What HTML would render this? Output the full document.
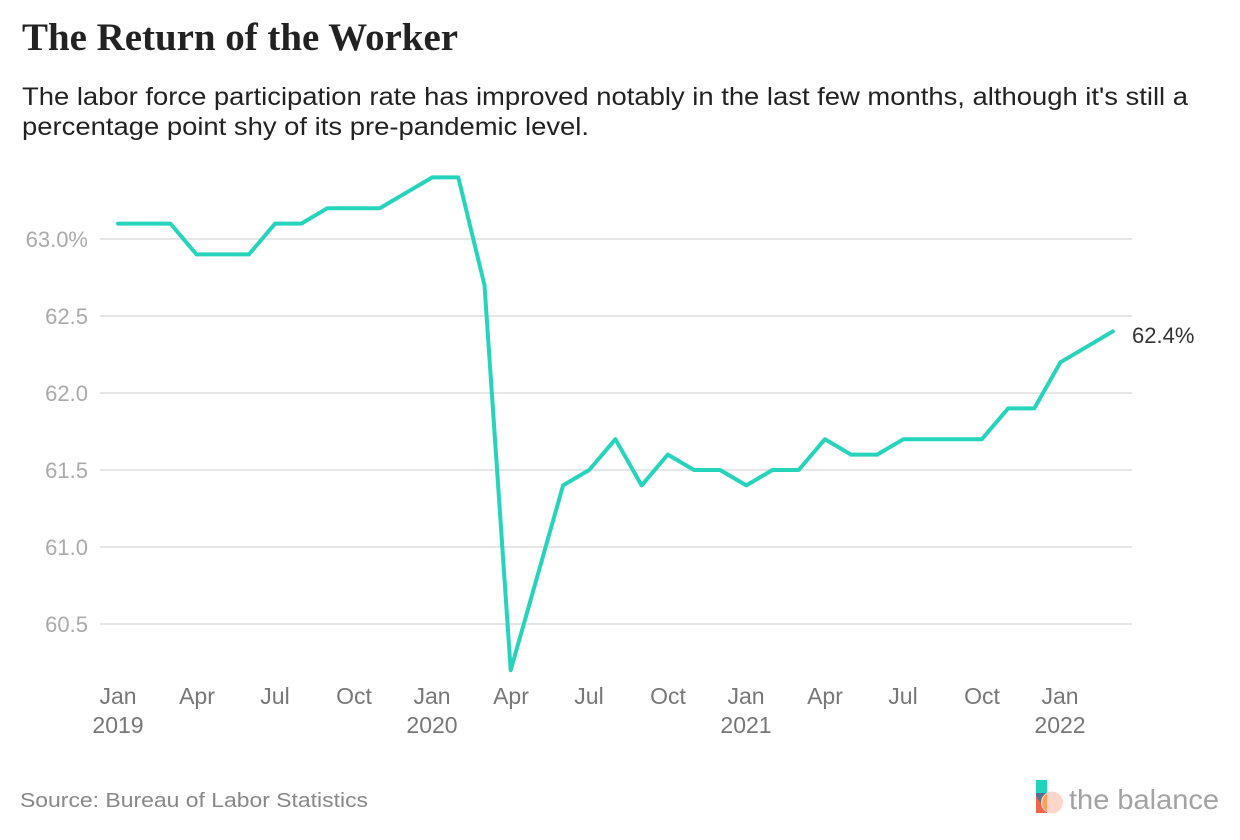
<!DOCTYPE html>
<html>
<head>
<meta charset="utf-8">
<style>
  html, body { margin: 0; padding: 0; background: #ffffff; }
  body { width: 1240px; height: 840px; overflow: hidden; }
  svg { display: block; }
</style>
</head>
<body>
<svg width="1240" height="840" viewBox="0 0 1240 840" xmlns="http://www.w3.org/2000/svg">
  <rect x="0" y="0" width="1240" height="840" fill="#ffffff"/>

  <!-- Title -->
  <text x="22" y="50" font-family="Liberation Serif, serif" font-weight="bold" font-size="39" fill="#222222" textLength="436" lengthAdjust="spacingAndGlyphs">The Return of the Worker</text>

  <!-- Subtitle -->
  <text x="22" y="105" font-family="Liberation Sans, sans-serif" font-size="25" fill="#222222" textLength="1166" lengthAdjust="spacingAndGlyphs">The labor force participation rate has improved notably in the last few months, although it's still a</text>
  <text x="22" y="135" font-family="Liberation Sans, sans-serif" font-size="25" fill="#222222" textLength="567" lengthAdjust="spacingAndGlyphs">percentage point shy of its pre-pandemic level.</text>

  <!-- Gridlines -->
  <g stroke="#e6e6e6" stroke-width="2">
    <line x1="100" y1="239" x2="1132" y2="239"/>
    <line x1="100" y1="316" x2="1132" y2="316"/>
    <line x1="100" y1="393" x2="1132" y2="393"/>
    <line x1="100" y1="470" x2="1132" y2="470"/>
    <line x1="100" y1="547" x2="1132" y2="547"/>
    <line x1="100" y1="624" x2="1132" y2="624"/>
  </g>

  <!-- Y labels -->
  <g font-family="Liberation Sans, sans-serif" font-size="22" fill="#aaaaaa" text-anchor="end">
    <text x="88" y="247">63.0%</text>
    <text x="88" y="324">62.5</text>
    <text x="88" y="401">62.0</text>
    <text x="88" y="478">61.5</text>
    <text x="88" y="555">61.0</text>
    <text x="88" y="632">60.5</text>
  </g>

  <!-- X labels -->
  <g font-family="Liberation Sans, sans-serif" font-size="23" fill="#777777" text-anchor="middle">
    <text x="118" y="704">Jan</text>
    <text x="118" y="733">2019</text>
    <text x="197" y="704">Apr</text>
    <text x="275" y="704">Jul</text>
    <text x="354" y="704">Oct</text>
    <text x="432" y="704">Jan</text>
    <text x="432" y="733">2020</text>
    <text x="511" y="704">Apr</text>
    <text x="589" y="704">Jul</text>
    <text x="668" y="704">Oct</text>
    <text x="746" y="704">Jan</text>
    <text x="746" y="733">2021</text>
    <text x="825" y="704">Apr</text>
    <text x="903" y="704">Jul</text>
    <text x="982" y="704">Oct</text>
    <text x="1060" y="704">Jan</text>
    <text x="1060" y="733">2022</text>
  </g>

  <!-- Data line -->
  <polyline fill="none" stroke="#26d4bc" stroke-width="4" stroke-linejoin="round" stroke-linecap="round"
    points="118,223.6 144.2,223.6 170.4,223.6 196.5,254.4 222.7,254.4 248.9,254.4 275.1,223.6 301.3,223.6 327.4,208.2 353.6,208.2 379.8,208.2 406,192.8 432.2,177.4 458.3,177.4 484.5,285.2 510.7,670.2 536.9,577.8 563.1,485.4 589.2,470 615.4,439.2 641.6,485.4 667.8,454.6 694,470 720.1,470 746.3,485.4 772.5,470 798.7,470 824.9,439.2 851,454.6 877.2,454.6 903.4,439.2 929.6,439.2 955.8,439.2 981.9,439.2 1008.1,408.4 1034.3,408.4 1060.5,362.2 1086.7,346.8 1112.8,331.4"/>

  <!-- End label -->
  <text x="1132" y="343" font-family="Liberation Sans, sans-serif" font-size="22" fill="#333333">62.4%</text>

  <!-- Source -->
  <text x="20" y="807" font-family="Liberation Sans, sans-serif" font-size="20" fill="#888888" textLength="348" lengthAdjust="spacingAndGlyphs">Source: Bureau of Labor Statistics</text>

  <!-- Logo -->
  <g>
    <rect x="1036" y="780" width="11" height="14" fill="#22d3bb"/>
    <rect x="1036" y="793" width="11" height="20" fill="#5b6f8c"/>
    <polygon points="1036,796 1047,813 1036,813" fill="#f2674a"/>
    <circle cx="1052" cy="802.5" r="11" fill="#ffd6c9"/>
    <path d="M1047,793.5 A11,11 0 0 0 1047,811.5 Z" fill="#ff9d55"/>
    <text x="1069" y="809" font-family="Liberation Sans, sans-serif" font-size="28" fill="#a3a3a3" textLength="150" lengthAdjust="spacingAndGlyphs">the balance</text>
  </g>
</svg>
</body>
</html>
